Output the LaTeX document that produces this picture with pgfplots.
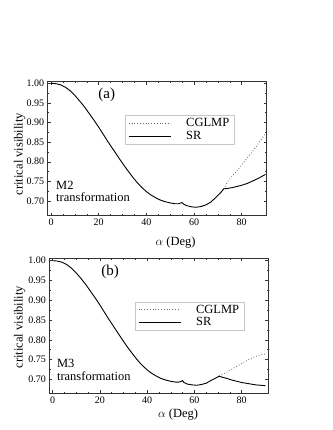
\documentclass[border=0pt]{standalone}
\usepackage{pgfplots}
\usepackage{pgfplotstable}
\pgfplotsset{compat=1.18}
\usepackage{fontspec}
\setmainfont{Liberation Serif}

% SR curve, panel (a)
\pgfplotstableread{
a v
0 1.000
2 0.999
4 0.996
6 0.990
8 0.981
10 0.969
12 0.955
14 0.940
16 0.923
18 0.906
20 0.888
22 0.869
24 0.850
26 0.832
28 0.814
30 0.796
32 0.779
34 0.763
36 0.748
38 0.735
40 0.724
42 0.715
44 0.708
46 0.702
48 0.698
50 0.695
52 0.693
53.5 0.693
54.5 0.695
55 0.696
55.6 0.692
57 0.688
59 0.685
61 0.684
63 0.686
65 0.690
67 0.697
69 0.708
71 0.720
72.5 0.731
74 0.732
76 0.734
78 0.737
80 0.740
82 0.744
84 0.749
86 0.755
88 0.761
90 0.768
}\srA
\pgfplotstableread{
a v
72.5 0.731
73.5 0.742
74.5 0.752
76 0.763
78 0.777
80 0.792
82 0.807
84 0.822
86 0.838
88 0.855
90 0.873
}\cgA
% panel (b)
\pgfplotstableread{
a v
0 1.000
2 0.999
4 0.996
6 0.990
8 0.981
10 0.969
12 0.955
14 0.940
16 0.923
18 0.906
20 0.888
22 0.869
24 0.850
26 0.832
28 0.814
30 0.796
32 0.779
34 0.763
36 0.748
38 0.735
40 0.724
42 0.715
44 0.708
46 0.702
48 0.698
50 0.695
52 0.693
53.5 0.693
54.5 0.695
55 0.697
55.6 0.692
57 0.688
59 0.686
61 0.685
63 0.687
65 0.690
67 0.697
69 0.703
70.5 0.708
72 0.705
74 0.702
76 0.698
78 0.695
80 0.692
82 0.690
84 0.688
86 0.686
88 0.685
90 0.684
}\srB
\pgfplotstableread{
a v
70.5 0.708
72 0.713
74 0.719
76 0.726
78 0.733
80 0.740
82 0.747
84 0.753
86 0.758
88 0.762
90 0.764
}\cgB

\pgfplotsset{
  panel/.style={
    scale only axis, width=219pt, anchor=south west,
    axis line style={black!80, line width=0.5pt},
    tick style={black!80, line width=0.4pt},
    tick align=inside,
    major tick length=3pt, minor tick length=1.6pt,
    xtick={0,20,...,80}, minor x tick num=3,
    ytick={0.70,0.75,...,1.00}, minor y tick num=1,
    yticklabel style={/pgf/number format/.cd, fixed, fixed zerofill, precision=2},
    /pgf/number format/assume math mode=true,
    tick label style={font=\fontsize{10}{11}\selectfont},
    ylabel={critical visibility},
    xlabel={$\alpha$ (Deg)},
    label style={font=\fontsize{12.5}{14}\selectfont},
    legend cell align=left,
    legend image code/.code={\draw[#1] (0pt,0pt) -- (42pt,0pt);},
    legend style={draw=black!22, fill=white, line width=0.6pt,
      font=\fontsize{12.5}{14}\selectfont, inner xsep=3pt, inner ysep=1pt,
      row sep=-1pt, /tikz/every odd column/.append style={column sep=13pt}},
  },
  sr/.style={black, line width=0.9pt},
  cg/.style={black!60, line width=0.8pt, dash pattern=on 0.8pt off 2pt},
}

\begin{document}
\begin{tikzpicture}
\path[use as bounding box] (0pt,0pt) rectangle (332pt,430pt);

\begin{axis}[panel, at={(47.7pt,214.3pt)}, height=134pt,
  xmin=-1.4, xmax=90.5, ymin=0.6625, ymax=1.004,
  xlabel style={at={(rel axis cs:0.584,0)}, anchor=center, yshift=-27pt},
  ylabel style={at={(rel axis cs:-0.128,0.46)}, anchor=center},
  legend style={at={(rel axis cs:0.353,0.751)}, anchor=north west}]
\addplot[cg] table[x=a,y=v] {\cgA};
\addlegendentry{CGLMP}
\addplot[sr] table[x=a,y=v] {\srA};
\addlegendentry{SR}
\node[font=\fontsize{15}{16}\selectfont] at (axis cs:23.4,0.970) {(a)};
\node[anchor=west, align=left, inner sep=0pt, font=\fontsize{12.5}{12.7}\selectfont]
  at (axis cs:2.1,0.7245) {M2\\transformation};
\end{axis}

\begin{axis}[panel, at={(49.3pt,36.7pt)}, height=135pt,
  xmin=-1.4, xmax=91.3, ymin=0.6647, ymax=1.006,
  xlabel style={at={(rel axis cs:0.588,0)}, anchor=center, yshift=-21pt},
  ylabel style={at={(rel axis cs:-0.135,0.49)}, anchor=center},
  legend style={at={(rel axis cs:0.391,0.679)}, anchor=north west}]
\addplot[cg] table[x=a,y=v] {\cgB};
\addlegendentry{CGLMP}
\addplot[sr] table[x=a,y=v] {\srB};
\addlegendentry{SR}
\node[font=\fontsize{15}{16}\selectfont] at (axis cs:24.3,0.971) {(b)};
\node[anchor=west, align=left, inner sep=0pt, font=\fontsize{12.5}{12.7}\selectfont]
  at (axis cs:1.8,0.724) {M3\\transformation};
\end{axis}
\end{tikzpicture}
\end{document}
